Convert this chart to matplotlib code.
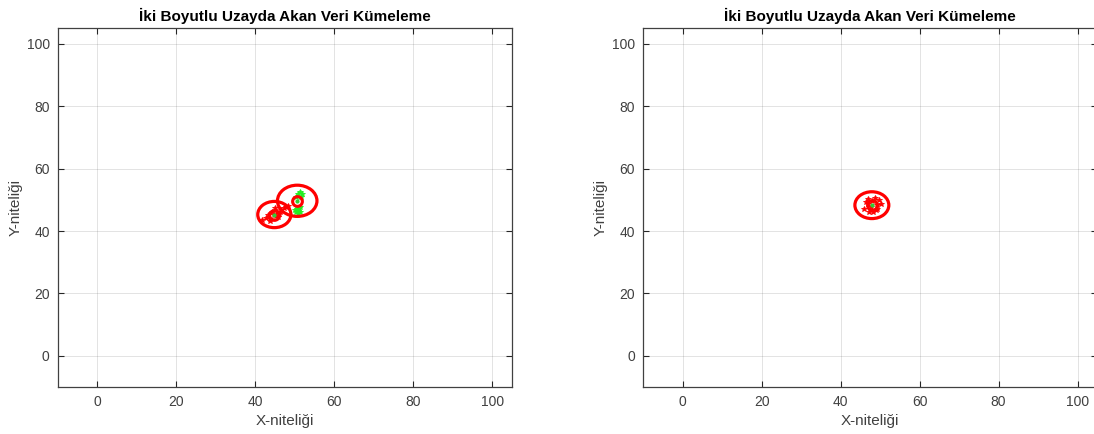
import matplotlib.pyplot as plt
from matplotlib.patches import Circle

plt.rcParams['font.family'] = ['Liberation Sans', 'DejaVu Sans']

title = 'İki Boyutlu Uzayda Akan Veri Kümeleme'
x_label = 'X-niteliği'
y_label = 'Y-niteliği'
ticks = [0, 20, 40, 60, 80, 100]

# left panel: two micro-clusters
left_red_x = [41.8, 42.6, 43.1, 43.6, 44.1, 44.6, 45.1, 45.6, 46.1, 46.6, 47.2, 43.8, 44.9, 45.7, 46.3, 47.8, 48.3]
left_red_y = [43.4, 44.3, 45.1, 44.0, 46.0, 45.3, 44.8, 46.2, 45.5, 46.8, 47.3, 43.1, 47.4, 44.5, 46.0, 47.6, 48.0]
left_green_x = [50.2, 50.8, 51.3, 50.5, 51.0, 50.0, 51.5, 50.7, 51.2, 50.4, 51.8, 50.9, 51.4]
left_green_y = [46.0, 46.5, 46.2, 47.0, 47.3, 46.8, 51.0, 51.8, 52.5, 50.8, 52.0, 45.6, 47.6]
left_centers_x = [44.8, 50.6]
left_centers_y = [45.3, 49.7]
left_radii = [4.2, 5.0]

# right panel: one merged cluster
right_red_x = [46.0, 46.8, 47.3, 47.9, 48.6, 49.1, 49.7, 50.3, 47.0, 48.2, 49.3, 46.5, 48.9, 47.6]
right_red_y = [47.0, 48.6, 46.2, 49.7, 50.6, 47.0, 49.9, 48.6, 50.2, 46.1, 48.2, 49.3, 46.6, 47.8]
right_centers_x = [47.9]
right_centers_y = [48.3]
right_radii = [4.3]

fig = plt.figure(figsize=(10.94, 4.34), dpi=100)
ax1 = fig.add_axes([0.053, 0.108, 0.415, 0.827])
ax2 = fig.add_axes([0.588, 0.108, 0.415, 0.827])

edge = '#262626'


def draw_panel(ax, pts, cx, cy, radii):
    for px, py, col in pts:
        ax.plot(px, py, '*', color=col, markersize=4, markeredgewidth=0.6, linestyle='none')
    for x0, y0, r in zip(cx, cy, radii):
        ax.add_patch(Circle((x0, y0), r, fill=False, edgecolor='red', linewidth=2.3, zorder=4))
    ax.plot(cx, cy, 'o', color='red', markerfacecolor='none', markersize=7, markeredgewidth=2.2, linestyle='none', zorder=5)
    ax.plot(cx, cy, '.', color='#33cc33', markersize=4, linestyle='none', zorder=6)

    ax.set_xlim(-10, 105)
    ax.set_ylim(-10, 105)
    ax.set_xticks(ticks)
    ax.set_yticks(ticks)
    ax.grid(True, color='#262626', alpha=0.15, linewidth=0.6)
    ax.set_axisbelow(True)
    ax.tick_params(direction='in', top=True, right=True, length=4, width=0.8,
                   colors=edge, labelsize=10, labelcolor='#404040', pad=6)
    for s in ax.spines.values():
        s.set_color('#404040')
        s.set_linewidth(0.9)
    ax.set_title(title, fontsize=11, fontweight='bold', color='black', pad=5)
    ax.set_xlabel(x_label, fontsize=11, color='#404040', labelpad=3)
    ax.set_ylabel(y_label, fontsize=11, color='#404040', labelpad=3)


draw_panel(ax1, [(left_red_x, left_red_y, 'red'), (left_green_x, left_green_y, '#22ee22')],
           left_centers_x, left_centers_y, left_radii)
draw_panel(ax2, [(right_red_x, right_red_y, 'red')],
           right_centers_x, right_centers_y, right_radii)

fig.savefig('out.png', dpi=100)
